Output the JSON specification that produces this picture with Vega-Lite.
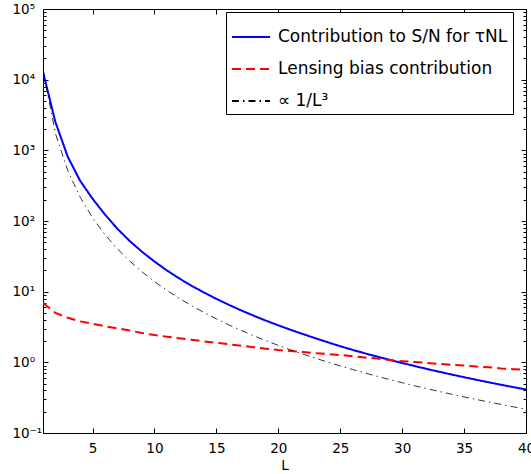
{
  "$schema": "https://vega.github.io/schema/vega-lite/v6.json",
  "width": 483,
  "height": 424,
  "autosize": {"type": "none"},
  "padding": {"left": 43, "top": 9, "right": 5, "bottom": 41},
  "background": "white",
  "config": {
    "view": {"stroke": "black", "strokeWidth": 1},
    "font": "DejaVu Sans",
    "axis": {
      "domain": false, "grid": false, "tickColor": "black", "tickWidth": 1,
      "labelColor": "black", "titleColor": "black", "titleFontWeight": "normal",
      "labelFont": "DejaVu Sans", "titleFont": "DejaVu Sans",
      "labelFontSize": 13.5, "titleFontSize": 13.5,
      "labelFlush": false, "labelOverlap": false, "labelBound": false
    },
    "legend": {
      "padding": 5, "fillColor": "white", "strokeColor": "black",
      "labelFont": "DejaVu Sans", "labelFontSize": 17, "labelColor": "black",
      "labelLimit": 500, "rowPadding": 4, "symbolType": "stroke",
      "symbolSize": 1444, "symbolStrokeWidth": 2, "labelOffset": 7
    }
  },
  "data": {"values": [
    {"L":1,"s":"sn","v":12900},{"L":2,"s":"sn","v":2520},{"L":3,"s":"sn","v":810},{"L":4,"s":"sn","v":370},{"L":5,"s":"sn","v":207},
    {"L":6,"s":"sn","v":123.6},{"L":7,"s":"sn","v":77.8},{"L":8,"s":"sn","v":52.1},{"L":9,"s":"sn","v":36.6},{"L":10,"s":"sn","v":26.7},
    {"L":11,"s":"sn","v":20.0},{"L":12,"s":"sn","v":15.4},{"L":13,"s":"sn","v":12.1},{"L":14,"s":"sn","v":9.73},{"L":15,"s":"sn","v":7.91},
    {"L":16,"s":"sn","v":6.52},{"L":17,"s":"sn","v":5.43},{"L":18,"s":"sn","v":4.58},{"L":19,"s":"sn","v":3.89},{"L":20,"s":"sn","v":3.34},
    {"L":21,"s":"sn","v":2.88},{"L":22,"s":"sn","v":2.51},{"L":23,"s":"sn","v":2.19},{"L":24,"s":"sn","v":1.92},{"L":25,"s":"sn","v":1.69},
    {"L":26,"s":"sn","v":1.50},{"L":27,"s":"sn","v":1.34},{"L":28,"s":"sn","v":1.20},{"L":29,"s":"sn","v":1.083},{"L":30,"s":"sn","v":0.978},
    {"L":31,"s":"sn","v":0.887},{"L":32,"s":"sn","v":0.806},{"L":33,"s":"sn","v":0.735},{"L":34,"s":"sn","v":0.672},{"L":35,"s":"sn","v":0.616},
    {"L":36,"s":"sn","v":0.566},{"L":37,"s":"sn","v":0.521},{"L":38,"s":"sn","v":0.481},{"L":39,"s":"sn","v":0.445},{"L":40,"s":"sn","v":0.413},
    {"L":1,"s":"lens","v":6.92},{"L":2,"s":"lens","v":5.01},{"L":3,"s":"lens","v":4.27},{"L":4,"s":"lens","v":3.80},{"L":5,"s":"lens","v":3.51},
    {"L":6,"s":"lens","v":3.24},{"L":7,"s":"lens","v":3.02},{"L":8,"s":"lens","v":2.82},{"L":9,"s":"lens","v":2.60},{"L":10,"s":"lens","v":2.43},
    {"L":11,"s":"lens","v":2.31},{"L":12,"s":"lens","v":2.19},{"L":13,"s":"lens","v":2.08},{"L":14,"s":"lens","v":1.98},{"L":15,"s":"lens","v":1.89},
    {"L":16,"s":"lens","v":1.80},{"L":17,"s":"lens","v":1.72},{"L":18,"s":"lens","v":1.64},{"L":19,"s":"lens","v":1.56},{"L":20,"s":"lens","v":1.49},
    {"L":21,"s":"lens","v":1.45},{"L":22,"s":"lens","v":1.40},{"L":23,"s":"lens","v":1.35},{"L":24,"s":"lens","v":1.31},{"L":25,"s":"lens","v":1.27},
    {"L":26,"s":"lens","v":1.22},{"L":27,"s":"lens","v":1.17},{"L":28,"s":"lens","v":1.13},{"L":29,"s":"lens","v":1.08},{"L":30,"s":"lens","v":1.04},
    {"L":31,"s":"lens","v":1.01},{"L":32,"s":"lens","v":0.98},{"L":33,"s":"lens","v":0.95},{"L":34,"s":"lens","v":0.92},{"L":35,"s":"lens","v":0.90},
    {"L":36,"s":"lens","v":0.87},{"L":37,"s":"lens","v":0.85},{"L":38,"s":"lens","v":0.82},{"L":39,"s":"lens","v":0.80},{"L":40,"s":"lens","v":0.78},
    {"L":1,"s":"cube","v":13900},{"L":2,"s":"cube","v":1737.5},{"L":3,"s":"cube","v":514.8},{"L":4,"s":"cube","v":217.2},{"L":5,"s":"cube","v":111.2},
    {"L":6,"s":"cube","v":64.35},{"L":7,"s":"cube","v":40.52},{"L":8,"s":"cube","v":27.15},{"L":9,"s":"cube","v":19.07},{"L":10,"s":"cube","v":13.9},
    {"L":11,"s":"cube","v":10.44},{"L":12,"s":"cube","v":8.044},{"L":13,"s":"cube","v":6.327},{"L":14,"s":"cube","v":5.066},{"L":15,"s":"cube","v":4.119},
    {"L":16,"s":"cube","v":3.394},{"L":17,"s":"cube","v":2.829},{"L":18,"s":"cube","v":2.383},{"L":19,"s":"cube","v":2.027},{"L":20,"s":"cube","v":1.738},
    {"L":21,"s":"cube","v":1.501},{"L":22,"s":"cube","v":1.305},{"L":23,"s":"cube","v":1.142},{"L":24,"s":"cube","v":1.005},{"L":25,"s":"cube","v":0.8896},
    {"L":26,"s":"cube","v":0.7909},{"L":27,"s":"cube","v":0.7062},{"L":28,"s":"cube","v":0.6332},{"L":29,"s":"cube","v":0.5699},{"L":30,"s":"cube","v":0.5148},
    {"L":31,"s":"cube","v":0.4666},{"L":32,"s":"cube","v":0.4242},{"L":33,"s":"cube","v":0.3868},{"L":34,"s":"cube","v":0.3537},{"L":35,"s":"cube","v":0.3242},
    {"L":36,"s":"cube","v":0.2979},{"L":37,"s":"cube","v":0.2744},{"L":38,"s":"cube","v":0.2533},{"L":39,"s":"cube","v":0.2343},{"L":40,"s":"cube","v":0.2172}
  ]},
  "layer": [
    {
      "mark": {"type": "line", "clip": true},
      "encoding": {
        "x": {"field": "L", "type": "quantitative",
          "scale": {"domain": [1, 40], "nice": false, "zero": false},
          "axis": {"orient": "bottom", "values": [5,10,15,20,25,30,35,40], "title": "L",
            "tickSize": -5, "labelPadding": 13, "titleBaseline": "alphabetic", "titleY": 36}},
        "y": {"field": "v", "type": "quantitative",
          "scale": {"type": "log", "domain": [0.1, 100000], "nice": false},
          "axis": {"orient": "left", "title": null,
            "values": [0.1,0.2,0.3,0.4,0.5,0.6,0.7,0.8,0.9,1,2,3,4,5,6,7,8,9,10,20,30,40,50,60,70,80,90,100,200,300,400,500,600,700,800,900,1000,2000,3000,4000,5000,6000,7000,8000,9000,10000,20000,30000,40000,50000,60000,70000,80000,90000,100000],
            "labelExpr": "abs(log(datum.value)/LN10 - round(log(datum.value)/LN10)) < 0.001 ? ('10' + ['⁻¹','⁰','¹','²','³','⁴','⁵'][round(log(datum.value)/LN10) + 1]) : ''",
            "tickSize": {"condition": {"test": "abs(log(datum.value)/LN10 - round(log(datum.value)/LN10)) < 0.001", "value": -5}, "value": -3},
            "labelAlign": "left", "labelBaseline": "middle", "labelPadding": 36}},
        "color": {"field": "s", "type": "nominal",
          "scale": {"domain": ["sn", "lens", "cube"], "range": ["#0000ff", "#ff0000", "#000000"]},
          "legend": {"title": null, "orient": "none", "legendX": 183, "legendY": 3,
            "labelExpr": "datum.value === 'sn' ? 'Contribution to S/N for τNL' : datum.value === 'lens' ? 'Lensing bias contribution' : '∝ 1/L³'"}},
        "strokeDash": {"field": "s", "type": "nominal",
          "scale": {"domain": ["sn", "lens", "cube"], "range": [[1, 0], [9, 5], [7, 4, 1.5, 4]]},
          "legend": {"title": null, "orient": "none", "legendX": 183, "legendY": 3,
            "labelExpr": "datum.value === 'sn' ? 'Contribution to S/N for τNL' : datum.value === 'lens' ? 'Lensing bias contribution' : '∝ 1/L³'"}},
        "strokeWidth": {"condition": {"test": "datum.s === 'cube'", "value": 0.8}, "value": 2}
      }
    },
    {
      "mark": {"type": "point", "opacity": 0, "clip": true},
      "encoding": {
        "x": {"field": "L", "type": "quantitative",
          "axis": {"orient": "top", "values": [5,10,15,20,25,30,35,40], "title": null, "labels": false, "tickSize": -5}},
        "y": {"field": "v", "type": "quantitative",
          "axis": {"orient": "right", "title": null, "labels": false,
            "values": [0.1,0.2,0.3,0.4,0.5,0.6,0.7,0.8,0.9,1,2,3,4,5,6,7,8,9,10,20,30,40,50,60,70,80,90,100,200,300,400,500,600,700,800,900,1000,2000,3000,4000,5000,6000,7000,8000,9000,10000,20000,30000,40000,50000,60000,70000,80000,90000,100000],
            "tickSize": {"condition": {"test": "abs(log(datum.value)/LN10 - round(log(datum.value)/LN10)) < 0.001", "value": -5}, "value": -3}}}
      }
    }
  ],
  "resolve": {"axis": {"x": "independent", "y": "independent"}}
}
